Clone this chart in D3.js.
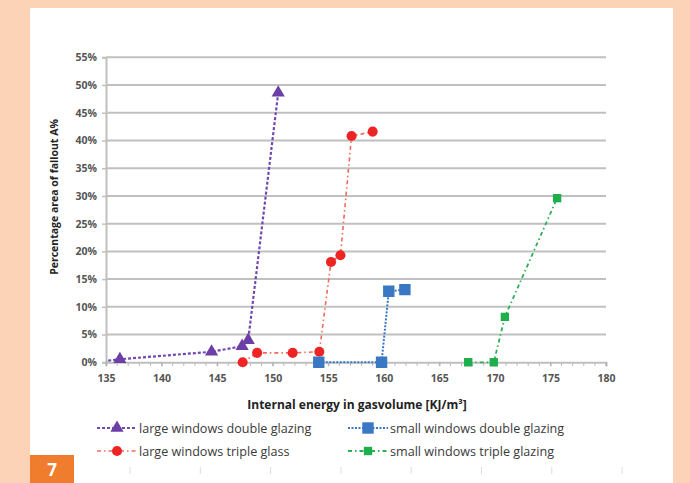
<!DOCTYPE html>
<html><head><meta charset="utf-8">
<script src="https://cdn.jsdelivr.net/npm/d3@7"></script>
<style>html,body{margin:0;padding:0;background:#fcd3b7;}svg{display:block;}</style>
</head><body>
<svg id="c" width="690" height="483"></svg>
<script>
// ---- data ----
const seriesNames = ["large windows double glazing","large windows triple glass","small windows double glazing","small windows triple glazing"];
const lwdgX = [134.3,136.25,144.5,147.25,147.8,150.5];
const lwdgY = [0.1,0.55,1.9,2.9,4.0,48.6];
const lwtgX = [147.3,148.6,151.8,154.2,155.25,156.1,157.1,159.0];
const lwtgY = [0.0,1.7,1.7,1.9,18.1,19.3,40.8,41.6];
const swdgX = [154.15,159.8,160.45,161.9];
const swdgY = [0.0,0.0,12.8,13.1];
const swtgX = [167.6,169.9,170.9,175.6];
const swtgY = [0.0,0.0,8.2,29.6];
const xTicks = [135,140,145,150,155,160,165,170,175,180];
const yTicks = [0,5,10,15,20,25,30,35,40,45,50,55];

const svg = d3.select("#c");
const font = "'Open Sans', Lato, sans-serif";
// panel
svg.append("rect").attr("x",30).attr("y",8).attr("width",643).attr("height",475).attr("fill","#ffffff");
// number tag
svg.append("rect").attr("x",30).attr("y",455).attr("width",44).attr("height",28).attr("fill","#ef7d2d");
svg.append("text").attr("x",52).attr("y",476).attr("text-anchor","middle").attr("fill","#fff")
  .attr("font-family",font).attr("font-weight","bold").attr("font-size",17).text("7");

const L=106, R=606, T=57.3, B=362.3;
const x = d3.scaleLinear().domain([135,180]).range([L,R]);
const y = d3.scaleLinear().domain([0,55]).range([B,T]);

const defs = svg.append("defs");
defs.append("clipPath").attr("id","clip").append("rect").attr("x",L).attr("y",0).attr("width",R-L+10).attr("height",B+10);

// gridlines
svg.append("g").selectAll("line").data(yTicks.filter(d=>d>0)).join("line")
  .attr("x1",L).attr("x2",R).attr("y1",d=>y(d)).attr("y2",d=>y(d))
  .attr("stroke","#c0c0c0").attr("stroke-width",2);
// y axis
const ya = svg.append("g").attr("transform",`translate(${L},0)`)
  .call(d3.axisLeft(y).tickValues(yTicks).tickFormat(d=>d+"%").tickSize(4).tickPadding(5));
ya.select(".domain").attr("stroke","#c0c0c0").attr("stroke-width",2);
ya.selectAll(".tick line").attr("stroke","#c0c0c0").attr("stroke-width",1.5);
ya.selectAll("text").attr("font-family",font).attr("font-size",10.5).attr("font-weight","bold").attr("fill","#555");
// x axis minor ticks
svg.append("g").selectAll("line").data(d3.range(136,181)).join("line")
  .attr("x1",d=>x(d)).attr("x2",d=>x(d)).attr("y1",B).attr("y2",B+3.5)
  .attr("stroke","#b0b0b0").attr("stroke-width",1);
const xa = svg.append("g").attr("transform",`translate(0,${B})`)
  .call(d3.axisBottom(x).tickValues(xTicks).tickSize(4).tickPadding(8));
xa.select(".domain").attr("stroke","#c0c0c0").attr("stroke-width",2);
xa.selectAll(".tick line").attr("stroke","#b0b0b0").attr("stroke-width",1.2);
xa.selectAll("text").attr("font-family",font).attr("font-size",10.5).attr("font-weight","bold").attr("fill","#555");

// titles
svg.append("text").attr("transform","translate(58,197) rotate(-90)").attr("text-anchor","middle")
  .attr("font-family",font).attr("font-weight","bold").attr("font-size",10.5).attr("fill","#222")
  .text("Percentage area of fallout A%");
svg.append("text").attr("x",357).attr("y",409).attr("text-anchor","middle")
  .attr("font-family",font).attr("font-weight","bold").attr("font-size",12).attr("fill","#222")
  .text("Internal energy in gasvolume [KJ/m³]");

const styles = [
  {xs:lwdgX, ys:lwdgY, color:"#6b3fa6", line:"#7048b0", dash:"3,2", w:2.2, shape:d3.symbolTriangle, size:75},
  {xs:lwtgX, ys:lwtgY, color:"#ee2424", line:"#f06a5a", dash:"4,3,1.5,3", w:1.6, shape:d3.symbolCircle, size:80},
  {xs:swdgX, ys:swdgY, color:"#3a78c4", line:"#3a78c4", dash:"2,1.5", w:2, shape:d3.symbolSquare, size:130},
  {xs:swtgX, ys:swtgY, color:"#1fae4c", line:"#2cb055", dash:"4,3,1.5,3", w:1.8, shape:d3.symbolSquare, size:70}
];
const plot = svg.append("g").attr("clip-path","url(#clip)");
const lineGen = d3.line().x(d=>x(d[0])).y(d=>y(d[1]));
styles.forEach(s=>{
  const pts = s.xs.map((v,i)=>[v,s.ys[i]]);
  plot.append("path").attr("d",lineGen(pts)).attr("fill","none").attr("stroke",s.line)
    .attr("stroke-width",s.w).attr("stroke-dasharray",s.dash);
  plot.selectAll(null).data(pts).join("path")
    .attr("transform",d=>`translate(${x(d[0])},${y(d[1])})`)
    .attr("d",d3.symbol().type(s.shape).size(s.size)).attr("fill",s.color);
});

// legend
const legPos = [[97,428],[97,451],[348,428],[348,451]];
styles.forEach((s,i)=>{
  const [lx,ly] = legPos[i];
  const g = svg.append("g").attr("transform",`translate(${lx},${ly})`);
  g.append("line").attr("x1",0).attr("x2",40).attr("y1",0).attr("y2",0).attr("stroke",s.line)
    .attr("stroke-width",s.w).attr("stroke-dasharray",s.dash);
  g.append("path").attr("transform","translate(20,0)").attr("d",d3.symbol().type(s.shape).size(s.size)).attr("fill",s.color);
  g.append("text").attr("x",42).attr("y",4.5).attr("font-family",font).attr("font-size",12.6)
    .attr("fill","#3a3a3a").text(seriesNames[i]);
});
// faint bottom ticks
svg.append("g").selectAll("line").data(d3.range(8)).join("line")
  .attr("x1",d=>130+d*70.3).attr("x2",d=>130+d*70.3).attr("y1",467).attr("y2",474)
  .attr("stroke","#dcdcdc").attr("stroke-width",1);
</script>
</body></html>
